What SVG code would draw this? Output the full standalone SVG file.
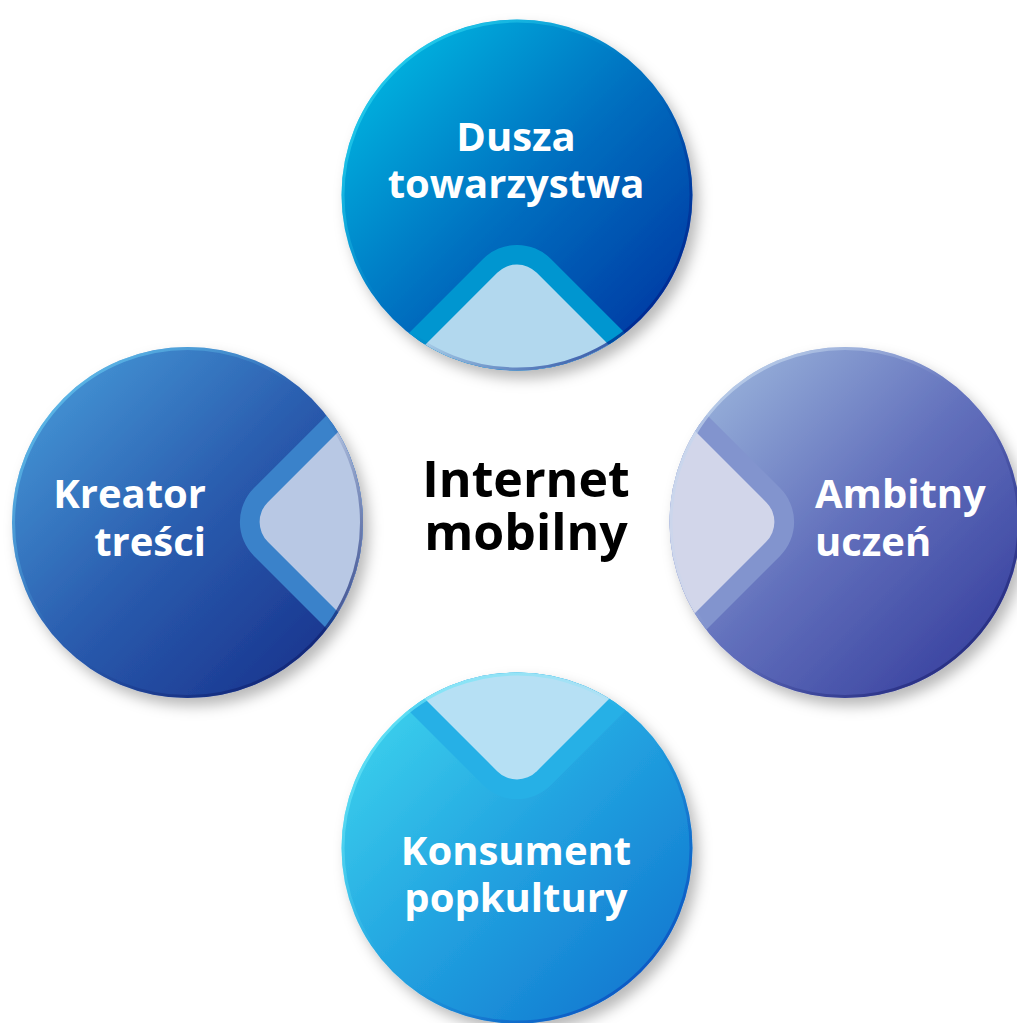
<svg xmlns="http://www.w3.org/2000/svg" width="1017" height="1023" viewBox="0 0 1017 1023">
<style>
.lbl{font-family:"Open Sans","Noto Sans","DejaVu Sans",sans-serif;font-weight:700;font-size:40px;fill:#ffffff}
.ctr{font-family:"Open Sans","Noto Sans","DejaVu Sans",sans-serif;font-weight:700;font-size:50px;fill:#000000}
.rim{fill:none;stroke-width:3}
</style>
<defs>
<filter id="shadow" x="-20%" y="-20%" width="150%" height="150%">
<feDropShadow dx="6" dy="8" stdDeviation="7" flood-color="#000" flood-opacity="0.28"/>
</filter>
<linearGradient id="gTop" x1="0" y1="0" x2="1" y2="1"><stop offset="0" stop-color="#00c6e8"/><stop offset="0.5" stop-color="#0070c0"/><stop offset="1" stop-color="#002c9c"/></linearGradient>
<linearGradient id="gLeft" x1="0" y1="0" x2="1" y2="1"><stop offset="0" stop-color="#4aa2de"/><stop offset="0.5" stop-color="#2a5cae"/><stop offset="1" stop-color="#152a86"/></linearGradient>
<linearGradient id="gRight" x1="0" y1="0" x2="1" y2="1"><stop offset="0" stop-color="#a6c2e2"/><stop offset="0.5" stop-color="#6270bc"/><stop offset="1" stop-color="#2e3698"/></linearGradient>
<linearGradient id="gBottom" x1="0" y1="0" x2="1" y2="1"><stop offset="0" stop-color="#42dcf0"/><stop offset="0.5" stop-color="#22a2e0"/><stop offset="1" stop-color="#0e6ecc"/></linearGradient>
<linearGradient id="rTop" x1="0" y1="0" x2="1" y2="1"><stop offset="0" stop-color="#30d4f0"/><stop offset="0.45" stop-color="#30d4f0" stop-opacity="0"/><stop offset="0.55" stop-color="#00228a" stop-opacity="0"/><stop offset="1" stop-color="#00228a"/></linearGradient>
<linearGradient id="rLeft" x1="0" y1="0" x2="1" y2="1"><stop offset="0" stop-color="#64c4ee"/><stop offset="0.45" stop-color="#64c4ee" stop-opacity="0"/><stop offset="0.55" stop-color="#0f2270" stop-opacity="0"/><stop offset="1" stop-color="#0f2270"/></linearGradient>
<linearGradient id="rRight" x1="0" y1="0" x2="1" y2="1"><stop offset="0" stop-color="#c4d6ee"/><stop offset="0.45" stop-color="#c4d6ee" stop-opacity="0"/><stop offset="0.55" stop-color="#202676" stop-opacity="0"/><stop offset="1" stop-color="#202676"/></linearGradient>
<linearGradient id="rBottom" x1="0" y1="0" x2="1" y2="1"><stop offset="0" stop-color="#6ce6f8"/><stop offset="0.45" stop-color="#6ce6f8" stop-opacity="0"/><stop offset="0.55" stop-color="#084abe" stop-opacity="0"/><stop offset="1" stop-color="#084abe"/></linearGradient>
<linearGradient id="bTop" gradientUnits="userSpaceOnUse" x1="410" y1="0" x2="625" y2="0"><stop offset="0" stop-color="#0096d0"/><stop offset="1" stop-color="#005ab2"/></linearGradient>
<linearGradient id="bLeft" gradientUnits="userSpaceOnUse" x1="0" y1="420" x2="0" y2="625"><stop offset="0" stop-color="#3a82ca"/><stop offset="1" stop-color="#1e46a0"/></linearGradient>
<linearGradient id="bRight" gradientUnits="userSpaceOnUse" x1="0" y1="420" x2="0" y2="625"><stop offset="0" stop-color="#8294ce"/><stop offset="1" stop-color="#4858b2"/></linearGradient>
<linearGradient id="bBottom" gradientUnits="userSpaceOnUse" x1="410" y1="0" x2="625" y2="0"><stop offset="0" stop-color="#26b0e6"/><stop offset="1" stop-color="#1886d6"/></linearGradient>
<linearGradient id="lTop" gradientUnits="userSpaceOnUse" x1="440" y1="265" x2="610" y2="372"><stop offset="0" stop-color="#b2d8ee"/><stop offset="1" stop-color="#78b8de"/></linearGradient>
<linearGradient id="lLeft" gradientUnits="userSpaceOnUse" x1="257" y1="430" x2="363" y2="615"><stop offset="0" stop-color="#b8c8e4"/><stop offset="1" stop-color="#8eaad6"/></linearGradient>
<linearGradient id="lRight" gradientUnits="userSpaceOnUse" x1="670" y1="430" x2="777" y2="615"><stop offset="0" stop-color="#d2d6ea"/><stop offset="1" stop-color="#acb6dc"/></linearGradient>
<linearGradient id="lBottom" gradientUnits="userSpaceOnUse" x1="425" y1="673" x2="610" y2="780"><stop offset="0" stop-color="#b6e0f4"/><stop offset="1" stop-color="#8acef0"/></linearGradient>
<clipPath id="cTop"><circle cx="517" cy="195" r="175.5"/></clipPath>
<clipPath id="cLeft"><circle cx="187.5" cy="522.5" r="175.5"/></clipPath>
<clipPath id="cRight"><circle cx="845" cy="522.5" r="175.5"/></clipPath>
<clipPath id="cBottom"><circle cx="517" cy="848" r="175.5"/></clipPath>
<rect id="dOuter" x="-210" y="-210" width="420" height="420" rx="48" transform="translate(517 522) rotate(45)"/>
<rect id="dInner" x="-190.2" y="-190.2" width="380.4" height="380.4" rx="28" transform="translate(517 522) rotate(45)"/>
</defs>
<g id="connectors"/>
<g id="node-top">
<circle cx="517" cy="195" r="175.5" fill="url(#gTop)" filter="url(#shadow)"/>
<g clip-path="url(#cTop)"><use href="#dOuter" fill="url(#bTop)"/><use href="#dInner" fill="url(#lTop)"/></g>
<circle class="rim" cx="517" cy="195" r="174" stroke="url(#rTop)"/>
<text class="lbl" text-anchor="middle" x="516" y="151">Dusza</text>
<text class="lbl" text-anchor="middle" x="516" y="198">towarzystwa</text>
</g>
<g id="node-left">
<circle cx="187.5" cy="522.5" r="175.5" fill="url(#gLeft)" filter="url(#shadow)"/>
<g clip-path="url(#cLeft)"><use href="#dOuter" fill="url(#bLeft)"/><use href="#dInner" fill="url(#lLeft)"/></g>
<circle class="rim" cx="187.5" cy="522.5" r="174" stroke="url(#rLeft)"/>
<text class="lbl" text-anchor="end" x="206" y="508">Kreator</text>
<text class="lbl" text-anchor="end" x="206" y="556">treści</text>
</g>
<g id="node-right">
<circle cx="845" cy="522.5" r="175.5" fill="url(#gRight)" filter="url(#shadow)"/>
<g clip-path="url(#cRight)"><use href="#dOuter" fill="url(#bRight)"/><use href="#dInner" fill="url(#lRight)"/></g>
<circle class="rim" cx="845" cy="522.5" r="174" stroke="url(#rRight)"/>
<text class="lbl" x="815" y="508">Ambitny</text>
<text class="lbl" x="815" y="556">uczeń</text>
</g>
<g id="node-bottom">
<circle cx="517" cy="848" r="175.5" fill="url(#gBottom)" filter="url(#shadow)"/>
<g clip-path="url(#cBottom)"><use href="#dOuter" fill="url(#bBottom)"/><use href="#dInner" fill="url(#lBottom)"/></g>
<circle class="rim" cx="517" cy="848" r="174" stroke="url(#rBottom)"/>
<text class="lbl" text-anchor="middle" x="516" y="865">Konsument</text>
<text class="lbl" text-anchor="middle" x="516" y="912">popkultury</text>
</g>
<g id="node-center">
<text class="ctr" text-anchor="middle" x="526" y="497">Internet</text>
<text class="ctr" text-anchor="middle" x="526" y="550">mobilny</text>
</g>
</svg>
